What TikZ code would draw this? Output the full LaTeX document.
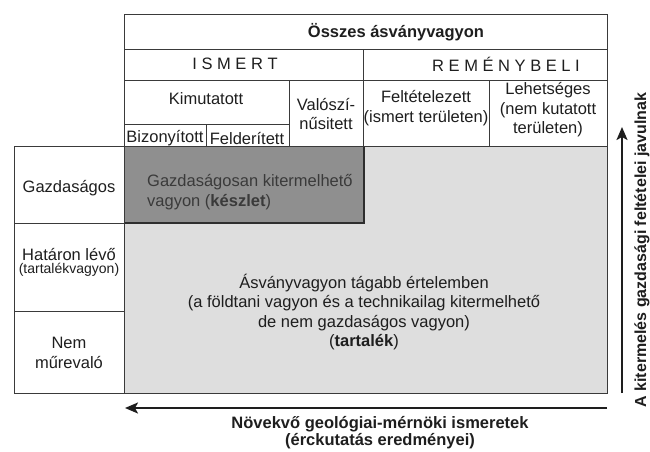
\documentclass[tikz,border=0pt]{standalone}
\usepackage{fontspec}
\setmainfont{Liberation Sans}
\usetikzlibrary{arrows.meta}
\definecolor{racs}{HTML}{3A3A3A}
\definecolor{keszletszin}{HTML}{8F8F8F}
\definecolor{tartalekszin}{HTML}{DEDEDE}
\definecolor{szoveg}{HTML}{1E1E1E}
\tikzset{
  cell line/.style={
    draw=racs,
    line width=1pt
  },
  label text/.style={
    font=\fontsize{16.5}{19.5}\selectfont,
    text=szoveg,
    align=center,
    inner sep=0pt
  },
  small text/.style={
    font=\fontsize{14}{16}\selectfont,
    text=szoveg,
    inner sep=0pt
  },
  head text/.style={
    font=\fontsize{16.5}{17}\selectfont\bfseries,
    text=szoveg,
    align=center,
    inner sep=0pt
  },
  trend arrow/.style={
    -{Stealth[length=13pt, width=11pt, inset=3pt]},
    line width=2.2pt,
    color=szoveg
  }
}

\begin{document}
\begin{tikzpicture}[x=1pt, y=-1pt]
    \useasboundingbox (0, 0) rectangle (650, 451);

    % 1. Kitöltött területek
    % tartalék (világosszürke)
    \fill[tartalekszin] (124, 146) rectangle (607, 393);
    % készlet (sötétszürke)
    \fill[keszletszin] (124, 146) rectangle (364, 223);
    \draw[racs!80!black, line width=1.4pt] (124, 223) -- (364, 223) -- (364, 146);
    \draw[cell line] (124, 146) rectangle (607, 393);

    % 2. Fejléc táblázata
    \draw[cell line] (124, 14) rectangle (607, 146);
    \draw[cell line] (124, 49) -- (607, 49);
    \draw[cell line] (124, 80) -- (607, 80);
    \draw[cell line] (124, 124) -- (289, 124);
    \draw[cell line] (363, 49) -- (363, 146);
    \draw[cell line] (289, 80) -- (289, 146);
    \draw[cell line] (206, 124) -- (206, 146);
    \draw[cell line] (489, 80) -- (489, 146);

    % 3. Bal oszlop (gazdaságosság)
    \draw[cell line] (14, 146) rectangle (124, 393);
    \draw[cell line] (14, 223) -- (124, 223);
    \draw[cell line] (14, 311) -- (124, 311);

    % 4. Fejléc feliratai
    \node[head text] (osszes) at (396, 32) {Összes ásványvagyon};
    \node[label text] (ismert) at (235, 64) {I S M E R T};
    \node[label text] (remeny) at (506, 64) {R E M É N Y B E L I};
    \node[label text] (kimutatott) at (206, 99) {Kimutatott};
    \node[label text] (bizonyitott) at (165, 138) {Bizonyított};
    \node[label text] (felderitett) at (247, 138) {Felderített};
    \node[label text] (valoszinu) at (326, 114) {Valószí-\\nűsitett};
    \node[label text] (feltetelezett) at (426, 108) {Feltételezett\\(ismert területen)};
    \node[label text] (lehetseges) at (548, 110) {Lehetséges\\(nem kutatott\\területen)};

    % 5. Bal oszlop feliratai
    \node[label text] (gazdasagos) at (69, 188) {Gazdaságos};
    \node[label text] (hataron) at (69, 254) {Határon lévő};
    \node[small text] (tartalekvagyon) at (69, 270) {(tartalékvagyon)};
    \node[label text] (nemmure) at (69, 353) {Nem\\műrevaló};

    % 6. Területek feliratai
    \node[label text, align=left, anchor=west, text=racs] (keszlet) at (147, 192)
      {Gazdaságosan kitermelhető\\vagyon (\textbf{készlet})};
    \node[label text] (tartalek) at (364, 312)
      {Ásványvagyon tágabb értelemben\\(a földtani vagyon és a technikailag kitermelhető\\de nem gazdaságos vagyon)\\(\textbf{tartalék})};

    % 7. Irányt mutató nyilak
    \coordinate (IsmeretKezd) at (607, 408);
    \coordinate (IsmeretVeg) at (125, 408);
    \draw[trend arrow] (IsmeretKezd) -- (IsmeretVeg);
    \node[head text] (ismeretek) at (380, 433)
      {Növekvő geológiai-mérnöki ismeretek\\(érckutatás eredményei)};

    \coordinate (FeltetelKezd) at (622, 393);
    \coordinate (FeltetelVeg) at (622, 127);
    \draw[trend arrow] (FeltetelKezd) -- (FeltetelVeg);
    \node[head text, font=\fontsize{16}{17}\selectfont\bfseries, rotate=90, anchor=base]
      (feltetelek) at (646, 250) {A kitermelés gazdasági feltételei javulnak};

\end{tikzpicture}
\end{document}
